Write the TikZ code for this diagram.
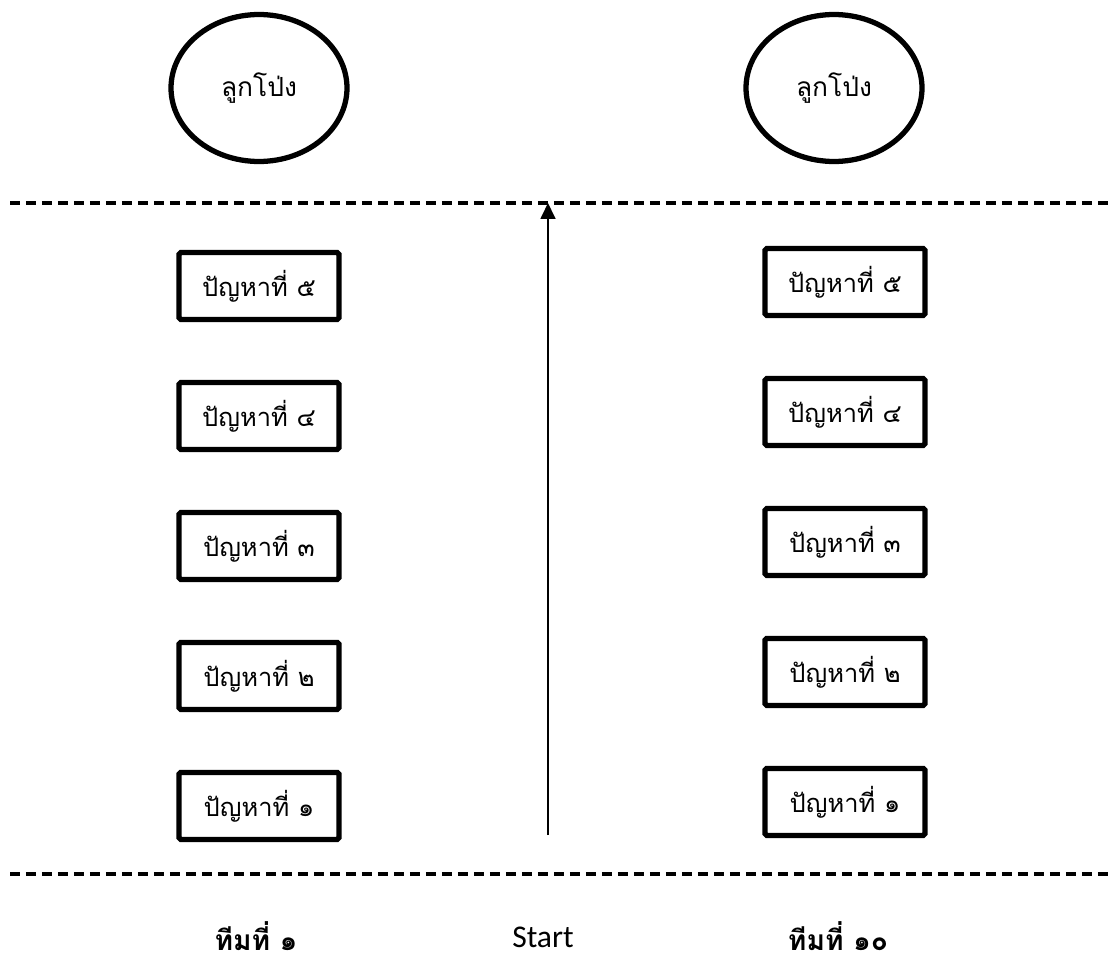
\documentclass[tikz,border=0pt]{standalone}
\usepackage{fontspec}
\setmainfont[Script=Thai]{Loma}
\newfontfamily\latinfont{Carlito}
\usepackage{tikz}
\usetikzlibrary{positioning,shapes.geometric,arrows.meta}

\begin{document}
\begin{tikzpicture}[x=0.02cm,y=-0.02cm,node distance=2.6cm]
	% กำหนดรูปแบบ
	\tikzstyle{balloon} = [ellipse, line width=3pt, draw=black, fill=white, minimum width=3.52cm, minimum height=2.94cm, font=\fontsize{15}{18}\selectfont]	% ลูกโป่ง
	\tikzstyle{problem} = [rectangle, rounded corners=1pt, line width=3pt, draw=black, fill=white, minimum width=3.2cm, minimum height=1.34cm, text centered, font=\fontsize{14.5}{17}\selectfont]	% ปัญหา
	\tikzstyle{team} = [font=\bfseries\fontsize{16}{19}\selectfont]	% ชื่อทีม
	\tikzstyle{border} = [line width=2.6pt, dash pattern=on 0.2cm off 0.12cm]	% เส้นประ
	\tikzstyle{arrow} = [line width=1pt, -{Triangle[length=0.32cm,width=0.3cm]}]	% ลูกศร
	\useasboundingbox (0,0) rectangle (1112,980);

	\node (ball1) [balloon] at (259,88) {ลูกโป่ง};
	\node (ball10) [balloon] at (834,88) {ลูกโป่ง};

	% ทีมที่ ๑
	\node (l5) [problem] at (259,286) {ปัญหาที่ ๕};
	\node (l4) [problem, below of=l5] {ปัญหาที่ ๔};
	\node (l3) [problem, below of=l4] {ปัญหาที่ ๓};
	\node (l2) [problem, below of=l3] {ปัญหาที่ ๒};
	\node (l1) [problem, below of=l2] {ปัญหาที่ ๑};

	% ทีมที่ ๑๐
	\node (r5) [problem] at (845,282) {ปัญหาที่ ๕};
	\node (r4) [problem, below of=r5] {ปัญหาที่ ๔};
	\node (r3) [problem, below of=r4] {ปัญหาที่ ๓};
	\node (r2) [problem, below of=r3] {ปัญหาที่ ๒};
	\node (r1) [problem, below of=r2] {ปัญหาที่ ๑};

	\node (team1) [team] at (256,936) {ทีมที่ ๑};
	\node (start) [font=\latinfont\fontsize{18}{21}\selectfont] at (543,937) {Start};
	\node (team10) [team] at (838,936) {ทีมที่ ๑๐};

	% เส้นประ
	\coordinate (topl) at (10,203);
	\coordinate (topr) at (1112,203);
	\coordinate (botl) at (10,874);
	\coordinate (botr) at (1112,874);
	\coordinate (from) at (548,835);
	\coordinate (goal) at (548,203);
	\draw [border](topl) -- (topr);
	\draw [border](botl) -- (botr);
	\draw [arrow](from) -- (goal);
\end{tikzpicture}
\end{document}
